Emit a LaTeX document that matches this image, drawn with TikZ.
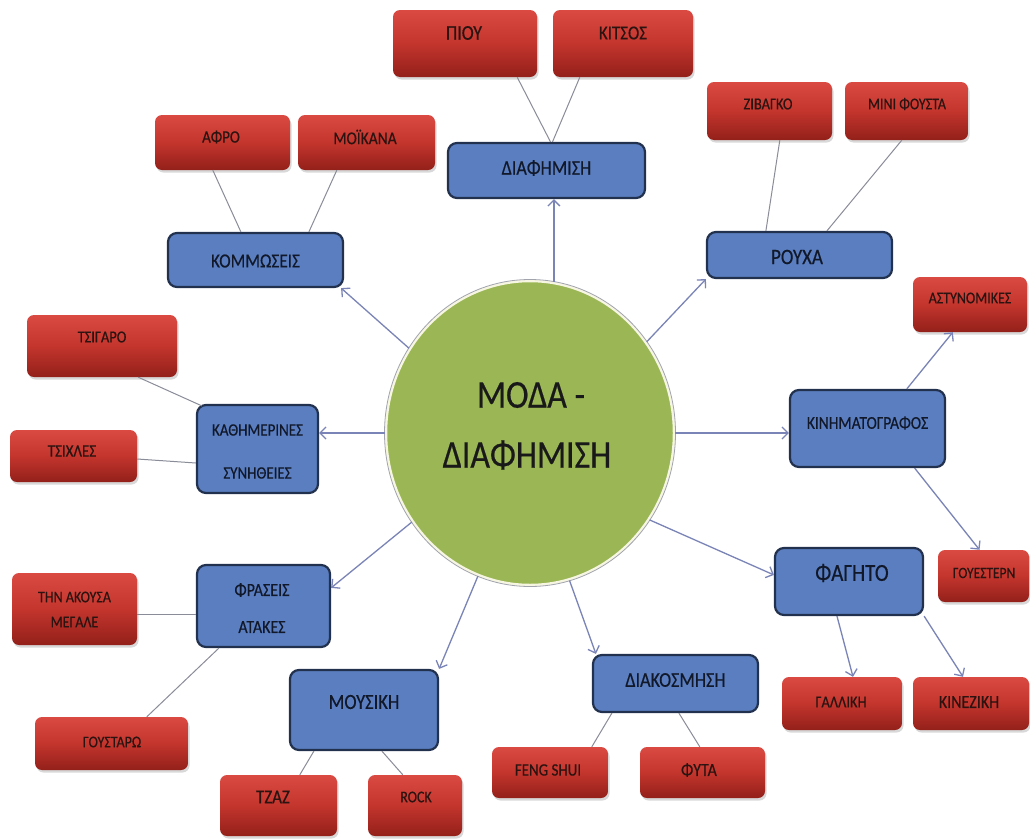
\documentclass[tikz,border=0pt]{standalone}
\usepackage{fontspec}
\setmainfont{Carlito}[FakeStretch=0.86, FakeBold=0.4]
\usetikzlibrary{shapes.geometric,arrows.meta,shadows,calc}

\definecolor{redtop}{HTML}{DA4A42}
\definecolor{redmid}{HTML}{C3352D}
\definecolor{redbot}{HTML}{93201A}
\definecolor{bluefill}{HTML}{5A7EC0}
\definecolor{blueedge}{HTML}{22314D}
\definecolor{greenfill}{HTML}{9BB655}
\definecolor{hubrim}{HTML}{F6F6E2}
\definecolor{arrowcol}{HTML}{7A84B6}
\definecolor{linecol}{HTML}{8A8C98}
\definecolor{rtextcol}{HTML}{2A1310}
\definecolor{btextcol}{HTML}{111829}

\begin{document}
\begin{tikzpicture}[x=1pt,y=-1pt,
  fs/.style={font=\fontsize{#1}{#1}\selectfont},
  redbox/.style={rectangle, rounded corners=7pt, inner sep=0pt,
    top color=redtop, bottom color=redbot, middle color=redmid,
    drop shadow={shadow xshift=1.5pt, shadow yshift=-2.5pt, opacity=0.3}},
  bluebox/.style={rectangle, rounded corners=9pt, inner sep=0pt,
    fill=bluefill, draw=blueedge, line width=2.2pt},
  rtxt/.style={inner sep=0pt, text=rtextcol},
  btxt/.style={inner sep=0pt, text=btextcol},
  hub/.style={ellipse, inner sep=0pt, fill=greenfill, draw=hubrim, line width=2.5pt},
  arr/.style={draw=arrowcol, line width=1.3pt, -{Straight Barb[length=6pt,width=12pt]}},
  ln/.style={draw=linecol, line width=1pt}]

\fill[white] (0,0) rectangle (1030,838);
\useasboundingbox (0,0) rectangle (1030,838);

% central topic
\node[hub, minimum width=288pt, minimum height=304pt] (c) at (530,433) {};
\draw[linecol!80, line width=0.8pt] (c.center) ellipse [x radius=145.5, y radius=153.5];
\node[inner sep=0pt, fs=39.5, text=black!90] (c-t1) at (531,395) {ΜΟΔΑ -};
\node[inner sep=0pt, fs=39.5, text=black!90] (c-t2) at (527,455) {ΔΙΑΦΗΜΙΣΗ};

% first-level topics
\node[bluebox, minimum width=197pt, minimum height=55pt] (diaf) at (546.5,170.5) {};
\node[btxt, fs=21] (diaf-t) at (546.5,168) {ΔΙΑΦΗΜΙΣΗ};
\node[bluebox, minimum width=175pt, minimum height=54pt] (komm) at (255.5,260) {};
\node[btxt, fs=20] (komm-t) at (255.5,261) {ΚΟΜΜΩΣΕΙΣ};
\node[bluebox, minimum width=185pt, minimum height=46pt] (rouxa) at (799.5,255) {};
\node[btxt, fs=22] (rouxa-t) at (797,257) {ΡΟΥΧΑ};
\node[bluebox, minimum width=121pt, minimum height=88pt] (kath) at (257.5,449) {};
\node[btxt, fs=17.4] (kath-t1) at (257.5,430) {ΚΑΘΗΜΕΡΙΝΕΣ};
\node[btxt, fs=17.4] (kath-t2) at (257.5,473) {ΣΥΝΗΘΕΙΕΣ};
\node[bluebox, minimum width=155pt, minimum height=77pt] (kin) at (867.5,428.5) {};
\node[btxt, fs=18] (kin-t) at (867.5,423) {ΚΙΝΗΜΑΤΟΓΡΑΦΟΣ};
\node[bluebox, minimum width=148pt, minimum height=67pt] (fag) at (849,581.5) {};
\node[btxt, fs=24.4] (fag-t) at (852,573) {ΦΑΓΗΤΟ};
\node[bluebox, minimum width=133pt, minimum height=82pt] (fras) at (263.5,606) {};
\node[btxt, fs=18.6] (fras-t1) at (262,590) {ΦΡΑΣΕΙΣ};
\node[btxt, fs=18.6] (fras-t2) at (262,627) {ΑΤΑΚΕΣ};
\node[bluebox, minimum width=148pt, minimum height=80pt] (mous) at (364,710) {};
\node[btxt, fs=21.5] (mous-t) at (364,702) {ΜΟΥΣΙΚΗ};
\node[bluebox, minimum width=165pt, minimum height=57pt] (diak) at (675.5,683.5) {};
\node[btxt, fs=21] (diak-t) at (675.5,680) {ΔΙΑΚΟΣΜΗΣΗ};

% second-level topics
\node[redbox, minimum width=144pt, minimum height=67pt] (piou) at (465,43.5) {};
\node[rtxt, fs=21] (piou-t) at (464,33) {ΠΙΟΥ};
\node[redbox, minimum width=140pt, minimum height=67pt] (kitsos) at (623,43.5) {};
\node[rtxt, fs=19.7] (kitsos-t) at (623,33) {ΚΙΤΣΟΣ};
\node[redbox, minimum width=135pt, minimum height=55pt] (afro) at (222.5,142.5) {};
\node[rtxt, fs=17.4] (afro-t) at (221,137) {ΑΦΡΟ};
\node[redbox, minimum width=137pt, minimum height=55pt] (moik) at (366.5,142.5) {};
\node[rtxt, fs=18] (moik-t) at (365,137) {ΜΟΪΚΑΝΑ};
\node[redbox, minimum width=125pt, minimum height=58pt] (ziv) at (769.5,111) {};
\node[rtxt, fs=16.8] (ziv-t) at (768,104) {ΖΙΒΑΓΚΟ};
\node[redbox, minimum width=123pt, minimum height=58pt] (mini) at (906.5,111) {};
\node[rtxt, fs=16.3] (mini-t) at (907,104) {ΜΙΝΙ ΦΟΥΣΤΑ};
\node[redbox, minimum width=114pt, minimum height=55pt] (astyn) at (970,304.5) {};
\node[rtxt, fs=16.3] (astyn-t) at (970,298) {ΑΣΤΥΝΟΜΙΚΕΣ};
\node[redbox, minimum width=150pt, minimum height=62pt] (tsig) at (102,346) {};
\node[rtxt, fs=16.8] (tsig-t) at (102,337) {ΤΣΙΓΑΡΟ};
\node[redbox, minimum width=127pt, minimum height=52pt] (tsix) at (73.5,456) {};
\node[rtxt, fs=17.4] (tsix-t) at (72,451) {ΤΣΙΧΛΕΣ};
\node[redbox, minimum width=91pt, minimum height=52pt] (goyest) at (983.5,576) {};
\node[rtxt, fs=15.7] (goyest-t) at (984,573) {ΓΟΥΕΣΤΕΡΝ};
\node[redbox, minimum width=125pt, minimum height=72pt] (thn) at (74.5,609) {};
\node[rtxt, fs=16.3] (thn-t1) at (74.5,597) {ΤΗΝ ΑΚΟΥΣΑ};
\node[rtxt, fs=16.3] (thn-t2) at (74.5,622) {ΜΕΓΑΛΕ};
\node[redbox, minimum width=153pt, minimum height=53pt] (goyst) at (111.5,743.5) {};
\node[rtxt, fs=16.3] (goyst-t) at (112,742) {ΓΟΥΣΤΑΡΩ};
\node[redbox, minimum width=117pt, minimum height=61pt] (tzaz) at (278.5,805.5) {};
\node[rtxt, fs=19.7] (tzaz-t) at (273,797) {ΤΖΑΖ};
\node[redbox, minimum width=94pt, minimum height=61pt] (rock) at (415,805.5) {};
\node[rtxt, fs=16.3] (rock-t) at (416,797) {ROCK};
\node[redbox, minimum width=116pt, minimum height=51pt] (feng) at (550,772.5) {};
\node[rtxt, fs=17.4] (feng-t) at (548,770) {FENG SHUI};
\node[redbox, minimum width=125pt, minimum height=51pt] (fyta) at (702.5,772.5) {};
\node[rtxt, fs=18.6] (fyta-t) at (699,770) {ΦΥΤΑ};
\node[redbox, minimum width=120pt, minimum height=53pt] (gal) at (842,703.5) {};
\node[rtxt, fs=16.8] (gal-t) at (841,702) {ΓΑΛΛΙΚΗ};
\node[redbox, minimum width=116pt, minimum height=53pt] (kinez) at (971,703.5) {};
\node[rtxt, fs=18.6] (kinez-t) at (969,702) {ΚΙΝΕΖΙΚΗ};

% plain links between topics and their sub-topics
\coordinate (thn-e) at ($(thn.east)+(0,5)$);
\draw[ln] ($(diaf.north)+(4,0)$) -- ($(piou.south east)+(-20,0)$);
\draw[ln] ($(diaf.north)+(6,0)$) -- ($(kitsos.south west)+(27,0)$);
\draw[ln] ($(komm.north west)+(74,0)$) -- ($(afro.south west)+(58,0)$);
\draw[ln] ($(komm.north west)+(142,0)$) -- ($(moik.south west)+(39,0)$);
\draw[ln] ($(rouxa.north west)+(60,0)$) -- ($(ziv.south west)+(73,0)$);
\draw[ln] ($(rouxa.north west)+(121,0)$) -- ($(mini.south west)+(57,0)$);
\draw[ln] ($(kath.north west)+(6,2)$) -- ($(tsig.south east)+(-39,0)$);
\draw[ln] ($(kath.west)+(0,14)$) -- ($(tsix.east)+(0,3)$);
\draw[ln] (thn-e) -- (thn-e -| fras.west);
\draw[ln] ($(fras.south west)+(23,0)$) -- ($(goyst.north west)+(112,0)$);
\draw[ln] ($(mous.south west)+(25,0)$) -- ($(tzaz.north west)+(80,0)$);
\draw[ln] ($(mous.south west)+(93,0)$) -- ($(rock.north west)+(35,0)$);
\draw[ln] ($(diak.south west)+(20,0)$) -- ($(feng.north west)+(100,0)$);
\draw[ln] ($(diak.south west)+(87,0)$) -- ($(fyta.north west)+(60,0)$);

% arrows from the central topic
\draw[arr] (c.81) -- (c.81 |- diaf.south);
\draw[arr] (c.145) -- ($(komm.south east)+(-3,0)$);
\draw[arr] (c.38) -- (rouxa.south west);
\draw[arr] (c.180) -- (c.180 -| kath.east);
\draw[arr] (c.0) -- (c.0 -| kin.west);
\draw[arr] (c.324) -- (fag.175);
\draw[arr] (c.217) -- (fras.15);
\draw[arr] (c.250) -- (mous.north east);
\draw[arr] (c.285) -- ($(diak.north west)+(4,0)$);

% arrows to sub-topics
\draw[arr] ($(kin.north)!0.5!(kin.north east)$) -- ($(astyn.south west)!0.35!(astyn.south east)$);
\draw[arr] ($(kin.south)!0.6!(kin.south east)$) -- ($(goyest.north)+(-4,0)$);
\draw[arr] ($(fag.south west)!0.42!(fag.south east)$) -- ($(gal.north)+(11,0)$);
\draw[arr] (fag.south east) -- ($(kinez.north)+(-8,0)$);
\end{tikzpicture}
\end{document}
